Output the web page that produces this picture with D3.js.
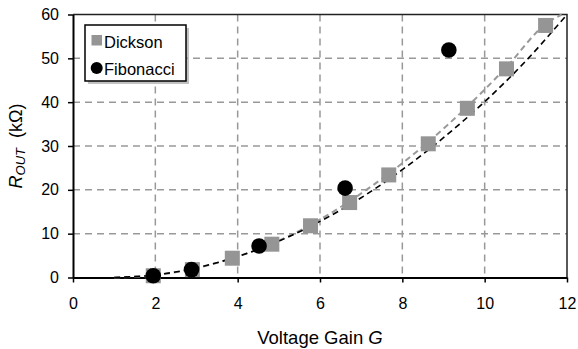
<!DOCTYPE html>
<html><head><meta charset="utf-8">
<script src="https://cdn.jsdelivr.net/npm/d3@7"></script>
<style>body{margin:0;background:#fff}text{font-family:Arial,"Liberation Sans",sans-serif}</style>
</head><body><svg id="c" width="578" height="349"></svg>
<script>
const dicksonG = [1.95, 2.9, 3.87, 4.83, 5.77, 6.72, 7.67, 8.63, 9.58, 10.53, 11.48];
const dicksonR = [0.4, 1.8, 4.4, 7.6, 11.8, 17.1, 23.4, 30.5, 38.6, 47.6, 57.5];
const fibG = [1.95, 2.88, 4.52, 6.61, 9.13];
const fibR = [0.4, 1.8, 7.2, 20.4, 51.9];
// estimated points along the two dashed fit curves
const fitDicksonG = [1.0, 1.95, 2.9, 3.87, 4.83, 5.77, 6.72, 7.67, 8.63, 9.58, 10.53, 11.48, 11.87];
const fitDicksonR = [0.0, 0.5, 1.9, 4.4, 7.7, 12.0, 17.4, 23.7, 30.9, 39.0, 48.0, 57.8, 60.0];
const fitFibG = [1, 2, 3, 4, 5, 6, 7, 8, 9, 10, 11, 12];
const fitFibR = [0.0, 0.6, 2.2, 4.8, 8.3, 12.8, 18.2, 24.6, 31.9, 40.1, 49.4, 60.0];
const xTicks = [0, 2, 4, 6, 8, 10, 12];
const yTicks = [0, 10, 20, 30, 40, 50, 60];

const svg = d3.select("#c");
const L = 73, R = 567, T = 14.5, B = 277.5;
const x = d3.scaleLinear().domain([0, 12]).range([L, R]);
const y = d3.scaleLinear().domain([0, 60]).range([B, T]);

// grid
const g = svg.append("g");
g.selectAll(".vg").data(xTicks.filter(d => d > 0 && d < 12)).enter().append("line")
  .attr("x1", d => x(d)).attr("x2", d => x(d)).attr("y1", T).attr("y2", B)
  .attr("stroke", "#999").attr("stroke-width", 1.5).attr("stroke-dasharray", "7,5");
g.selectAll(".hg").data(yTicks.filter(d => d > 0 && d < 60)).enter().append("line")
  .attr("x1", L).attr("x2", R).attr("y1", d => y(d)).attr("y2", d => y(d))
  .attr("stroke", "#999").attr("stroke-width", 1.5).attr("stroke-dasharray", "7,5");
// top and right border
svg.append("path").attr("d", `M${L},${T}H${R}V${B}`).attr("fill", "none").attr("stroke", "#222").attr("stroke-width", 1.5);

// axes
const xa = svg.append("g").attr("transform", `translate(0,${B})`)
  .call(d3.axisBottom(x).tickValues(xTicks).tickSize(5).tickSizeOuter(0).tickPadding(15));
const ya = svg.append("g").attr("transform", `translate(${L},0)`)
  .call(d3.axisLeft(y).tickValues(yTicks).tickSize(5).tickSizeOuter(0).tickPadding(9));
[xa, ya].forEach(a => {
  a.select(".domain").attr("stroke", "#000").attr("stroke-width", 2);
  a.selectAll(".tick line").attr("stroke", "#000").attr("stroke-width", 1.5);
  a.selectAll(".tick text").attr("font-size", 16).attr("fill", "#000").style("font-family", "Arial, 'Liberation Sans', sans-serif");
});

// fit lines
const line = d3.line().x(d => x(d[0])).y(d => y(d[1])).curve(d3.curveMonotoneX);
svg.append("path").datum(fitDicksonG.map((d, i) => [d, fitDicksonR[i]]))
  .attr("d", line).attr("fill", "none").attr("stroke", "#999").attr("stroke-width", 2).attr("stroke-dasharray", "6,4");
svg.append("path").datum(fitFibG.map((d, i) => [d, fitFibR[i]]))
  .attr("d", line).attr("fill", "none").attr("stroke", "#000").attr("stroke-width", 1.6).attr("stroke-dasharray", "6,4");

// markers
const S = 15;
svg.selectAll(".sq").data(dicksonG.map((d, i) => [d, dicksonR[i]])).enter().append("rect")
  .attr("x", d => x(d[0]) - S / 2).attr("y", d => y(d[1]) - S / 2).attr("width", S).attr("height", S)
  .attr("fill", "#959595");
svg.selectAll(".ci").data(fibG.map((d, i) => [d, fibR[i]])).enter().append("circle")
  .attr("cx", d => x(d[0])).attr("cy", d => y(d[1])).attr("r", 7.8).attr("fill", "#000");

// legend
const lg = svg.append("g");
lg.append("rect").attr("x", 88).attr("y", 28).attr("width", 101).attr("height", 56).attr("fill", "#999").attr("opacity", 0.6);
lg.append("rect").attr("x", 85).attr("y", 25).attr("width", 101).attr("height", 56).attr("fill", "#fff").attr("stroke", "#000").attr("stroke-width", 1.5);
lg.append("rect").attr("x", 91.5).attr("y", 35).attr("width", 10.5).attr("height", 10.5).attr("fill", "#959595");
lg.append("circle").attr("cx", 96.7).attr("cy", 68).attr("r", 6).attr("fill", "#000");
lg.append("text").attr("x", 104).attr("y", 47.5).attr("font-size", 16.5).text("Dickson");
lg.append("text").attr("x", 104).attr("y", 75).attr("font-size", 16.5).text("Fibonacci");

// axis titles
const xt = svg.append("text").attr("x", (L + R) / 2).attr("y", 344).attr("text-anchor", "middle").attr("font-size", 18.5);
xt.append("tspan").text("Voltage Gain ");
xt.append("tspan").attr("font-style", "italic").text("G");
const yt = svg.append("text").attr("transform", `translate(22,${(T + B) / 2}) rotate(-90)`).attr("text-anchor", "middle").attr("font-size", 18);
yt.append("tspan").attr("font-style", "italic").text("R");
yt.append("tspan").attr("font-style", "italic").attr("font-size", 13).attr("dy", 3).text("OUT");
yt.append("tspan").attr("dy", -3).text("\u00a0 (k\u03a9)");
</script></body></html>
